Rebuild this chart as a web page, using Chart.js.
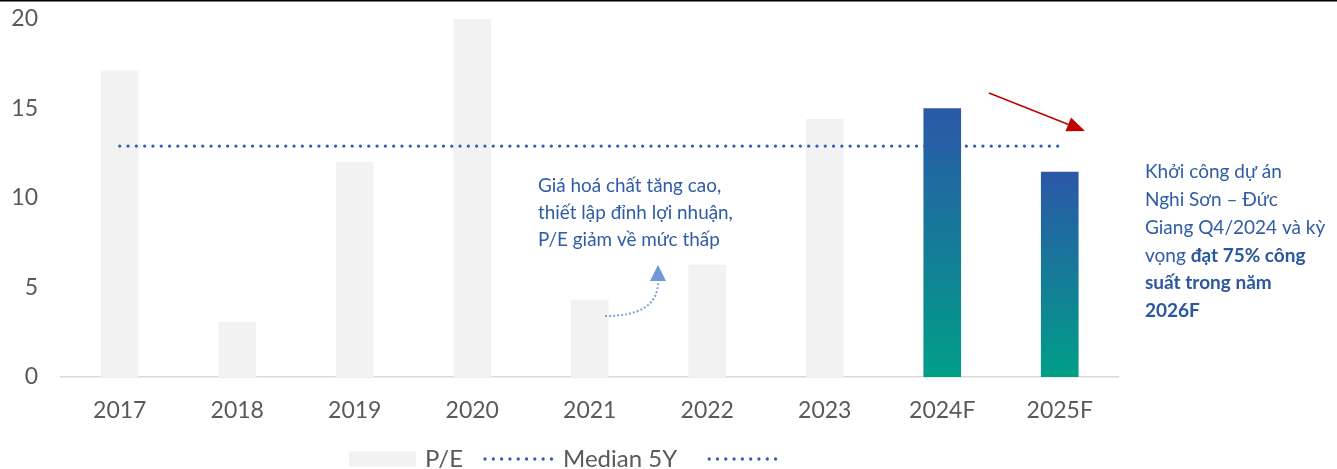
<!DOCTYPE html>
<html><head><meta charset="utf-8">
<script src="https://cdn.jsdelivr.net/npm/chart.js@4"></script>
<style>html,body{margin:0;padding:0;background:#fff;}canvas{display:block}</style>
</head><body><canvas id="c" width="1337" height="469"></canvas>
<script>
const categories = ['2017','2018','2019','2020','2021','2022','2023','2024F','2025F'];
const peValues = [17.1, 3.05, 12.0, 20.0, 4.3, 6.25, 14.4, 15.0, 11.45];
const medianValues = [12.9, 12.9, 12.9, 12.9, 12.9, 12.9, 12.9, 12.9, 12.9];
const forecastFlags = [false, false, false, false, false, false, false, true, true];
const yTickValues = [0, 5, 10, 15, 20];
const seriesLabels = ['P/E', 'Median 5Y', ''];
const noteLeft = ['Giá hoá chất tăng cao,', 'thiết lập đỉnh lợi nhuận,', 'P/E giảm về mức thấp'];
const noteRight = [
  [['Khởi công dự án', false]],
  [['Nghi Sơn – Đức', false]],
  [['Giang Q4/2024 và kỳ', false]],
  [['vọng ', false], ['đạt 75% công', true]],
  [['suất trong năm', true]],
  [['2026F', true]]
];

const FONT = 'Lato, "Open Sans", sans-serif';
const GREY_TXT = '#595959';
const BLUE = '#2f5fb0';

function dotted(ctx, x1, y1, x2, y2, color, w, gap) {
  ctx.save();
  ctx.strokeStyle = color; ctx.lineWidth = w; ctx.lineCap = 'round';
  ctx.setLineDash([0, gap]);
  ctx.beginPath(); ctx.moveTo(x1, y1); ctx.lineTo(x2, y2); ctx.stroke();
  ctx.restore();
}

const extras = {
  id: 'extras',
  afterDraw(chart) {
    const ctx = chart.ctx;
    ctx.save();
    ctx.fillStyle = '#000'; ctx.fillRect(0, 0, chart.width, 1.5);

    // legend
    const cy = 459;
    ctx.font = '24px ' + FONT; ctx.textBaseline = 'middle'; ctx.textAlign = 'left';
    let x = 349;
    ctx.fillStyle = '#f2f2f2'; ctx.fillRect(x, cy - 7.5, 67, 15); x += 76;
    ctx.fillStyle = GREY_TXT; ctx.fillText(seriesLabels[0], x, cy); x += ctx.measureText(seriesLabels[0]).width + 20;
    dotted(ctx, x + 2, cy, x + 72, cy, BLUE, 3.3, 8.3); x += 80;
    ctx.fillStyle = GREY_TXT; ctx.fillText(seriesLabels[1], x, cy); x += ctx.measureText(seriesLabels[1]).width + 30;
    dotted(ctx, x + 2, cy, x + 72, cy, BLUE, 3.3, 8.3);

    // left note
    ctx.font = '18.9px ' + FONT; ctx.fillStyle = '#2e5ca6';
    noteLeft.forEach((t, i) => ctx.fillText(t, 538, 186 + i * 27));

    // curved dotted arrow
    ctx.save();
    ctx.strokeStyle = '#7ea3dc'; ctx.lineWidth = 2; ctx.setLineDash([2, 2]);
    ctx.beginPath(); ctx.moveTo(605, 316); ctx.quadraticCurveTo(658, 316, 658, 282); ctx.stroke();
    ctx.restore();
    ctx.fillStyle = '#6f98d8';
    ctx.beginPath(); ctx.moveTo(658, 265); ctx.lineTo(666, 281); ctx.lineTo(650, 281); ctx.closePath(); ctx.fill();

    // right note
    noteRight.forEach((segs, i) => {
      let xx = 1145; const yy = 172 + i * 27.8;
      segs.forEach(([t, b]) => {
        ctx.font = (b ? 'bold ' : '') + '19px ' + FONT;
        ctx.fillStyle = b ? '#2b579f' : '#2e5ca6';
        ctx.fillText(t, xx, yy); xx += ctx.measureText(t).width;
      });
    });

    // red arrow
    const ax1 = 989, ay1 = 93, ax2 = 1085, ay2 = 131;
    const ang = Math.atan2(ay2 - ay1, ax2 - ax1);
    ctx.strokeStyle = '#c00000'; ctx.lineWidth = 1.5;
    ctx.beginPath(); ctx.moveTo(ax1, ay1);
    ctx.lineTo(ax2 - 15 * Math.cos(ang), ay2 - 15 * Math.sin(ang)); ctx.stroke();
    ctx.fillStyle = '#c00000';
    ctx.beginPath(); ctx.moveTo(ax2, ay2);
    ctx.lineTo(ax2 - 18 * Math.cos(ang) + 7.5 * Math.sin(ang), ay2 - 18 * Math.sin(ang) - 7.5 * Math.cos(ang));
    ctx.lineTo(ax2 - 18 * Math.cos(ang) - 7.5 * Math.sin(ang), ay2 - 18 * Math.sin(ang) + 7.5 * Math.cos(ang));
    ctx.closePath(); ctx.fill();
    ctx.restore();
  }
};

new Chart(document.getElementById('c'), {
  data: {
    labels: categories,
    datasets: [
      {
        type: 'line', label: seriesLabels[1], data: medianValues, order: 0,
        borderColor: BLUE, borderWidth: 3.3, borderDash: [0, 8.3], borderCapStyle: 'round',
        pointRadius: 0, fill: false, tension: 0
      },
      {
        type: 'bar', label: seriesLabels[0], data: peValues, order: 1, barThickness: 37,
        backgroundColor: (c) => {
          const i = c.dataIndex;
          if (!forecastFlags[i]) return '#f2f2f2';
          const ch = c.chart;
          if (!ch.chartArea || !ch.scales.y) return '#2b58a8';
          const top = ch.scales.y.getPixelForValue(c.raw);
          const bot = ch.scales.y.getPixelForValue(0);
          const g = ch.ctx.createLinearGradient(0, top, 0, bot);
          g.addColorStop(0, '#2b58a8'); g.addColorStop(1, '#009e88');
          return g;
        }
      }
    ]
  },
  options: {
    responsive: false, animation: false,
    layout: { padding: { top: 19, right: 218.5, bottom: 0, left: 0 } },
    plugins: { legend: { display: false }, tooltip: { enabled: false } },
    scales: {
      x: {
        afterFit: (s) => { s.height = 92; },
        grid: { display: false, drawTicks: false },
        border: { display: true, color: '#d9d9d9', width: 1.5 },
        ticks: { color: GREY_TXT, font: { family: FONT, size: 23 }, padding: 20 }
      },
      y: {
        min: 0, max: 20,
        afterBuildTicks: (s) => { s.ticks = yTickValues.map(v => ({ value: v })); },
        afterFit: (s) => { s.width = 61; s.paddingTop = 0; s.paddingBottom = 0; },
        grid: { display: false, drawTicks: false },
        border: { display: false },
        ticks: { color: GREY_TXT, font: { family: FONT, size: 23 }, padding: 23 }
      }
    }
  },
  plugins: [extras]
});
</script></body></html>
